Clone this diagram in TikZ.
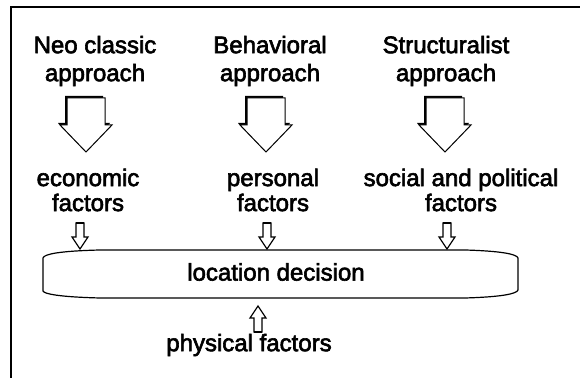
\documentclass[tikz,border=0pt]{standalone}
\usepackage{fontspec}
\setmainfont{Liberation Sans}
\newfontfamily\scanfont[FakeBold=2.5]{Liberation Sans}

\tikzset{
  heading/.style={font=\scanfont\fontsize{12}{14}\selectfont, align=center, inner sep=0pt},
  factor/.style={font=\scanfont\fontsize{12}{12.5}\selectfont, align=center, inner sep=0pt},
  bigarrow/.pic={
    \fill[black] (-21,-56) -- (17,-56) -- (17,-29) -- (24,-29) -- (-2,-2) -- (-28,-29) -- (-21,-29) -- cycle;
    \draw[fill=white, line width=0.5pt] (-19,-54) -- (19,-54) -- (19,-27) -- (26,-27) -- (0,0) -- (-26,-27) -- (-19,-27) -- cycle;
  },
  smallarrow/.pic={
    \draw[fill=white, line width=0.6pt] (-4,-26) -- (4,-26) -- (4,-12) -- (8,-12) -- (0,0) -- (-8,-12) -- (-4,-12) -- cycle;
    \draw[line width=1.2pt] (-4,-26) -- (4,-26);
  }
}

\begin{document}
\begin{tikzpicture}[x=0.5pt, y=-0.5pt]
  \useasboundingbox (0,0) rectangle (580,378);
  % frame, cut off on the right and at the bottom
  \draw[line width=1pt] (11,378) -- (11,7) -- (580,7);

  % approaches
  \node[heading] (neo) at (95,61) {Neo classic\\approach};
  \node[heading] (beh) at (270,61) {Behavioral\\approach};
  \node[heading] (str) at (446,61) {Structuralist\\approach};

  \pic at (86,152) {bigarrow};
  \pic at (266,152) {bigarrow};
  \pic at (445,152) {bigarrow};

  % factors
  \node[factor] (econ) at (88,190) {economic\\factors};
  \node[factor] (pers) at (273,190) {personal\\factors};
  \node[factor] (soc) at (461,190) {social and political\\factors};

  \pic at (80,249) {smallarrow};
  \pic at (267,249) {smallarrow};
  \pic at (447,249) {smallarrow};

  % decision
  \draw[line width=0.6pt] (100,250) -- (465,250) .. controls (500,251) and (517,254) .. (518,258)
    -- (518,290) .. controls (517,294) and (500,297) .. (465,298) -- (100,298)
    .. controls (60,297) and (44,294) .. (43,291) -- (43,258)
    .. controls (44,254) and (60,251) .. (100,250) -- cycle;
  \node[heading] (dec) at (276,272) {location decision};

  \pic[rotate=180] at (258,306) {smallarrow};
  \node[heading] (phys) at (249,345) {physical factors};
\end{tikzpicture}
\end{document}
